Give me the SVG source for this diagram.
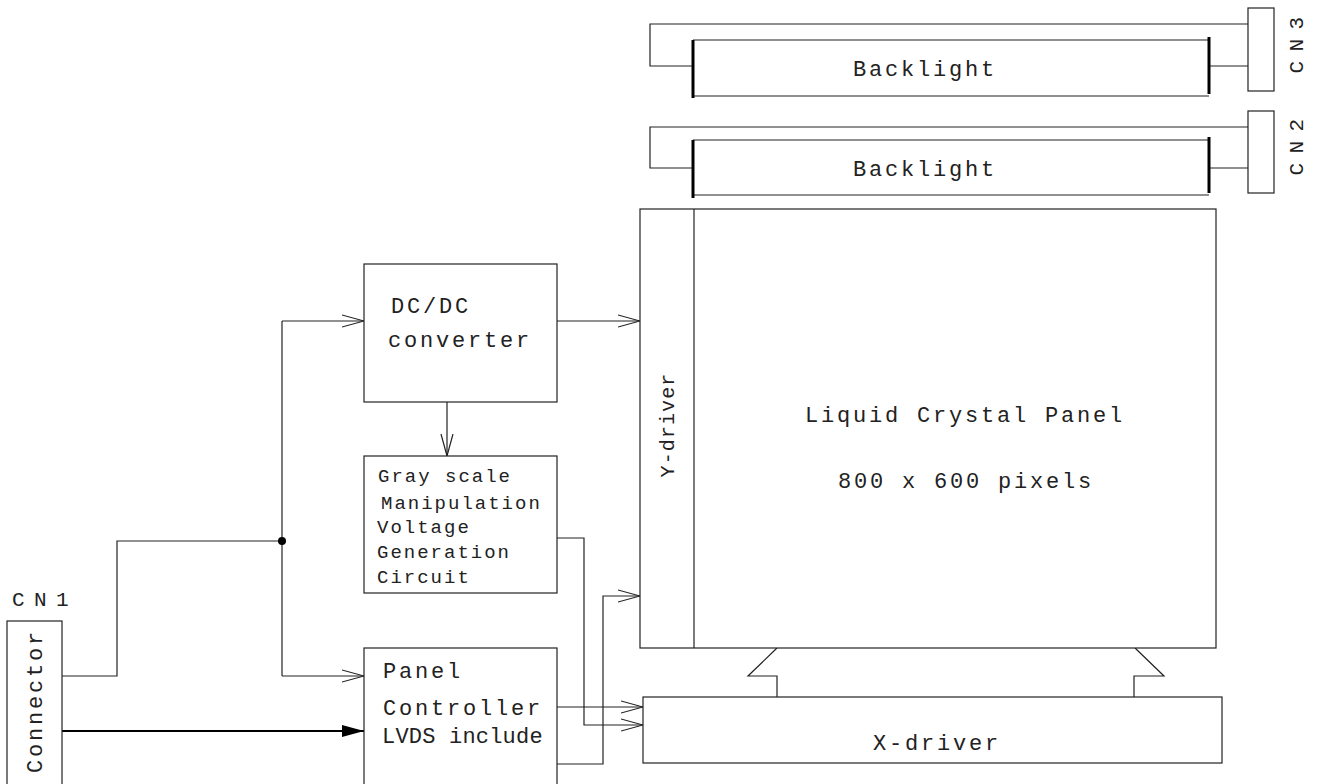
<svg xmlns="http://www.w3.org/2000/svg" width="1318" height="784" viewBox="0 0 1318 784">
<defs>
<marker id="open" viewBox="0 0 22 14" refX="22" refY="7" markerWidth="22" markerHeight="14" markerUnits="userSpaceOnUse" orient="auto"><path d="M0,1 L22,7 L0,13" fill="none" stroke="#222" stroke-width="1.2"/></marker>
<marker id="filled" viewBox="0 0 22 12" refX="22" refY="6" markerWidth="22" markerHeight="12" markerUnits="userSpaceOnUse" orient="auto"><path d="M0,0 L22,6 L0,12 Z" fill="#000"/></marker>
</defs>
<style>
.ln{fill:none;stroke:#222;stroke-width:1.2}
.bx{fill:#fff;stroke:#222;stroke-width:1.2}
.bar{fill:none;stroke:#000;stroke-width:3}
.t{font-family:"Liberation Mono","Courier New",monospace;fill:#222}
.big{font-size:22px;letter-spacing:2.8px}
.sm{font-size:19px;letter-spacing:2px}
.cn{font-size:21px;letter-spacing:-1.6px}
</style>
<rect width="1318" height="784" fill="#fff"/>

<g id="connectors">
  <path class="ln" d="M1248,24 H650 V66 H693"/>
  <path class="ln" d="M1209,66 H1248"/>
  <path class="ln" d="M1248,127 H650 V168 H693"/>
  <path class="ln" d="M1209,168 H1248"/>
  <path class="ln" d="M62,676 H117 V541 H282"/>
  <path class="ln" d="M282,321 V676"/>
  <path class="ln" d="M282,321 H364" marker-end="url(#open)"/>
  <path class="ln" d="M282,676 H364" marker-end="url(#open)"/>
  <circle cx="282" cy="541" r="4" fill="#000"/>
  <path d="M62,731 H364" fill="none" stroke="#000" stroke-width="2" marker-end="url(#filled)"/>
  <path class="ln" d="M557,321 H640" marker-end="url(#open)"/>
  <path class="ln" d="M447,402 V456" marker-end="url(#open)"/>
  <path class="ln" d="M557,538 H584 V725 H643" marker-end="url(#open)"/>
  <path class="ln" d="M557,707 H643" stroke-width="1.6" marker-end="url(#open)"/>
  <path class="ln" d="M557,764 H603 V596 H640" stroke-width="1.6" marker-end="url(#open)"/>
  <path class="ln" d="M777,648 L748,676 H777 V697"/>
  <path class="ln" d="M1135,648 L1164,676 H1134 V697"/>
</g>

<g id="backlight3">
  <line class="ln" x1="693" y1="40" x2="1209" y2="40"/>
  <line class="ln" x1="693" y1="96" x2="1209" y2="96"/>
  <line class="bar" x1="693" y1="40" x2="693" y2="98"/>
  <line class="bar" x1="1209" y1="37" x2="1209" y2="94"/>
  <text class="t big" x="853" y="76">Backlight</text>
</g>
<g id="backlight2">
  <line class="ln" x1="693" y1="140" x2="1209" y2="140"/>
  <line class="ln" x1="693" y1="195" x2="1209" y2="195"/>
  <line class="bar" x1="693" y1="140" x2="693" y2="198"/>
  <line class="bar" x1="1209" y1="137" x2="1209" y2="193"/>
  <text class="t big" x="853" y="176">Backlight</text>
</g>
<g id="cn3">
  <rect class="bx" x="1248" y="8" width="26" height="83"/>
  <text class="t cn" text-anchor="middle" transform="translate(1303,46) rotate(-90)">C N 3</text>
</g>
<g id="cn2">
  <rect class="bx" x="1248" y="111" width="26" height="82"/>
  <text class="t cn" text-anchor="middle" transform="translate(1303,148) rotate(-90)">C N 2</text>
</g>

<g id="lcd-panel">
  <rect class="bx" x="640" y="209" width="576" height="439"/>
  <text class="t big" x="805" y="422">Liquid Crystal Panel</text>
  <text class="t big" x="838" y="488">800 x 600 pixels</text>
</g>
<g id="y-driver">
  <line class="ln" x1="694" y1="209" x2="694" y2="648"/>
  <text class="t" font-size="20" letter-spacing="1.1" text-anchor="middle" transform="translate(674,425) rotate(-90)">Y-driver</text>
</g>
<g id="x-driver">
  <rect class="bx" x="643" y="697" width="579" height="66"/>
  <text class="t big" x="873" y="750">X-driver</text>
</g>

<g id="dcdc">
  <rect class="bx" x="364" y="264" width="193" height="138"/>
  <text class="t big" x="391" y="313">DC/DC</text>
  <text class="t big" x="388" y="347">converter</text>
</g>
<g id="grayscale">
  <rect class="bx" x="364" y="456" width="193" height="137"/>
  <text class="t sm" x="378" y="482">Gray scale</text>
  <text class="t sm" x="381" y="509">Manipulation</text>
  <text class="t sm" x="377" y="533">Voltage</text>
  <text class="t sm" x="377" y="558">Generation</text>
  <text class="t sm" x="377" y="583">Circuit</text>
</g>
<g id="panel-controller">
  <rect class="bx" x="364" y="648" width="193" height="150"/>
  <text class="t big" x="383" y="678">Panel</text>
  <text class="t big" x="383" y="715">Controller</text>
  <text class="t" font-size="22" letter-spacing="0.2" x="382" y="743">LVDS include</text>
</g>
<g id="cn1">
  <text class="t cn" x="12" y="606">C N 1</text>
  <rect class="bx" x="7" y="621" width="55" height="180"/>
  <text class="t big" text-anchor="middle" transform="translate(42,701) rotate(-90)">Connector</text>
</g>
</svg>
